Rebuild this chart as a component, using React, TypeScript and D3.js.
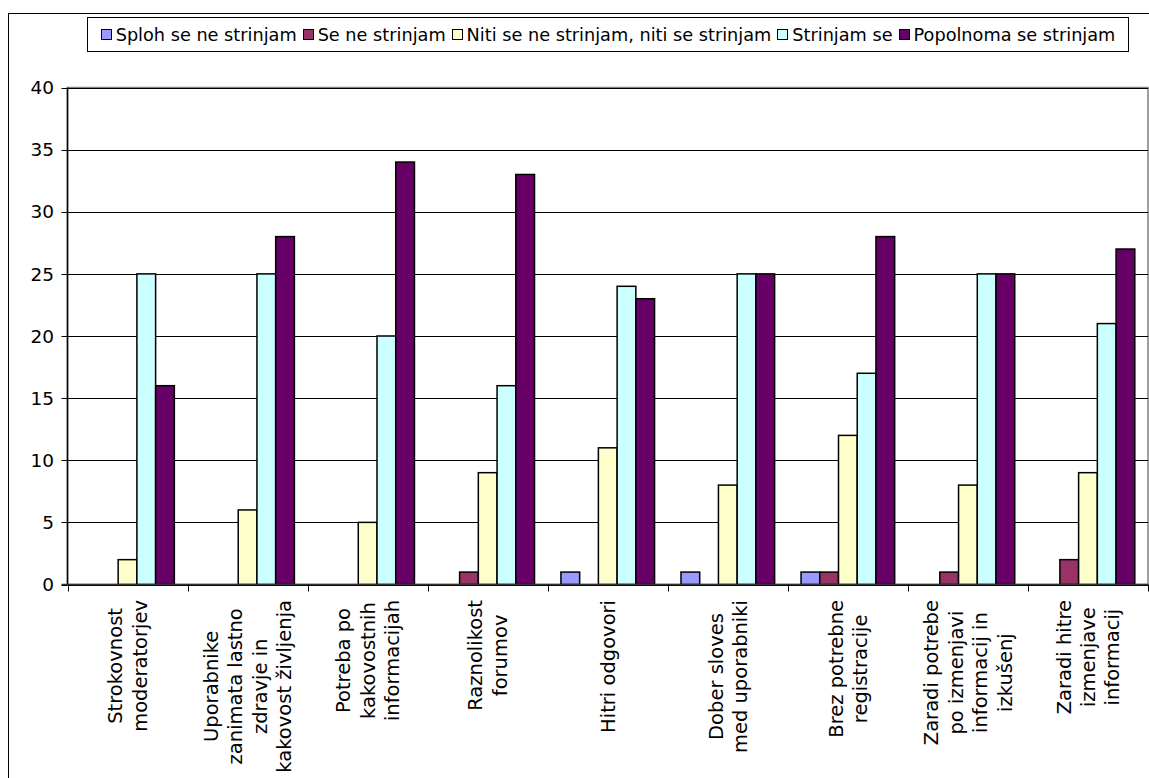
import React, { useMemo } from "react";
import * as d3 from "d3";

const categoryLines: string[][] = [
  ["Strokovnost", "moderatorjev"],
  ["Uporabnike", "zanimata lastno", "zdravje in", "kakovost življenja"],
  ["Potreba po", "kakovostnih", "informacijah"],
  ["Raznolikost", "forumov"],
  ["Hitri odgovori"],
  ["Dober sloves", "med uporabniki"],
  ["Brez potrebne", "registracije"],
  ["Zaradi potrebe", "po izmenjavi", "informacij in", "izkušenj"],
  ["Zaradi hitre", "izmenjave", "informacij"],
];
const categories = categoryLines.map((l) => l.join(" "));

const seriesNames = [
  "Sploh se ne strinjam",
  "Se ne strinjam",
  "Niti se ne strinjam, niti se strinjam",
  "Strinjam se",
  "Popolnoma se strinjam",
];
const seriesColors = ["#9999FF", "#993366", "#FFFFCC", "#CCFFFF", "#660066"];

const splohSeNe = [0, 0, 0, 0, 1, 1, 1, 0, 0];
const seNe = [0, 0, 0, 1, 0, 0, 1, 1, 2];
const niti = [2, 6, 5, 9, 11, 8, 12, 8, 9];
const strinjamSe = [25, 25, 20, 16, 24, 25, 17, 25, 21];
const popolnoma = [16, 28, 34, 33, 23, 25, 28, 25, 27];
const seriesValues = [splohSeNe, seNe, niti, strinjamSe, popolnoma];

const yTicks = [0, 5, 10, 15, 20, 25, 30, 35, 40];

const FONT = '"DejaVu Sans", Verdana, sans-serif';
const FS_LEG = 17.7;
const FS_TICK = 18.5;
const FS_CAT = 19.5;

function useMeasure(fs: number) {
  return useMemo(() => {
    const c = document.createElement("canvas").getContext("2d")!;
    c.font = `${fs}px "DejaVu Sans"`;
    return (s: string) => c.measureText(s).width;
  }, [fs]);
}

export default function App() {
  const W = 1149;
  const H = 778;
  const plot = { left: 67.5, right: 1148, top: 87.5, bottom: 584.5 };
  const measureLeg = useMeasure(FS_LEG);
  const measureCat = useMeasure(FS_CAT);

  const x0 = d3.scaleBand<string>().domain(categories).range([plot.left, plot.right]).padding(0);
  const bw = x0.bandwidth();
  const gap = bw * 0.22;
  const x1 = d3
    .scaleBand<string>()
    .domain(seriesNames)
    .range([gap / 2, bw - gap / 2])
    .padding(0);
  const y = d3.scaleLinear().domain([0, 40]).range([plot.bottom, plot.top]);

  // legend layout
  const sw = 10;
  const items = seriesNames.map((n) => ({ n, w: measureLeg(n) }));
  const itemWidths = items.map((it) => sw + 5 + it.w);
  const spacing = 6;
  const totalW = d3.sum(itemWidths) + spacing * (items.length - 1);
  const legendBox = { x: 87.5, y: 17.5, w: 1041, h: 34 };
  let cx = legendBox.x + (legendBox.w - totalW) / 2;
  const legendPos = items.map((it, i) => {
    const p = cx;
    cx += itemWidths[i] + spacing;
    return p;
  });

  const lineH = 24.5;
  const labelTop = 600;

  return (
    <svg
      width={W}
      height={H}
      style={{ position: "absolute", left: 0, top: 0, background: "#fff" }}
      fontFamily={FONT}
    >
      <rect x={0} y={0} width={W} height={H} fill="#fff" />
      <rect x={8.5} y={13.5} width={1170} height={800} fill="none" stroke="#000" strokeWidth={1} />

      {/* legend */}
      <rect
        x={legendBox.x}
        y={legendBox.y}
        width={legendBox.w}
        height={legendBox.h}
        fill="#fff"
        stroke="#000"
        strokeWidth={1}
      />
      {items.map((it, i) => (
        <g key={it.n}>
          <rect
            x={Math.round(legendPos[i]) + 0.5}
            y={29.5}
            width={sw}
            height={sw}
            fill={seriesColors[i]}
            stroke="#000"
            strokeWidth={1}
          />
          <text x={legendPos[i] + sw + 5} y={41} fontSize={FS_LEG} fill="#000">
            {it.n}
          </text>
        </g>
      ))}

      {/* plot border */}
      <rect
        x={plot.left}
        y={plot.top}
        width={plot.right - plot.left}
        height={plot.bottom - plot.top}
        fill="#fff"
        stroke="#808080"
        strokeWidth={1.5}
      />

      {/* gridlines */}
      {yTicks.map((t) => (
        <line
          key={"g" + t}
          x1={plot.left}
          x2={plot.right}
          y1={Math.round(y(t)) + 0.5}
          y2={Math.round(y(t)) + 0.5}
          stroke="#000"
          strokeWidth={1}
        />
      ))}

      {/* bars */}
      {categories.map((c, ci) => (
        <g key={c} transform={`translate(${x0(c)},0)`}>
          {seriesNames.map((s, si) => {
            const v = seriesValues[si][ci];
            if (!v) return null;
            return (
              <rect
                key={s}
                x={x1(s)}
                y={y(v)}
                width={x1.bandwidth()}
                height={y(0) - y(v)}
                fill={seriesColors[si]}
                stroke="#000"
                strokeWidth={1.5}
              />
            );
          })}
        </g>
      ))}

      {/* axes */}
      <line x1={plot.left} x2={plot.left} y1={plot.top} y2={plot.bottom} stroke="#000" strokeWidth={1.5} />
      <line x1={plot.left - 6} x2={plot.right} y1={plot.bottom} y2={plot.bottom} stroke="#333" strokeWidth={1.5} />
      {yTicks.map((t) => (
        <g key={"yt" + t}>
          <line
            x1={plot.left - 6}
            x2={plot.left}
            y1={Math.round(y(t)) + 0.5}
            y2={Math.round(y(t)) + 0.5}
            stroke="#000"
          />
          <text x={54} y={y(t)} dy="0.36em" textAnchor="end" fontSize={FS_TICK} fill="#000">
            {t}
          </text>
        </g>
      ))}
      {[...categories.map((c) => x0(c)!), plot.right].map((xv, i) => (
        <line
          key={"xt" + i}
          x1={Math.round(xv) + 0.5}
          x2={Math.round(xv) + 0.5}
          y1={plot.bottom}
          y2={plot.bottom + 7}
          stroke="#000"
        />
      ))}

      {/* category labels */}
      {categoryLines.map((lines, ci) => {
        const cxm = x0(categories[ci])! + bw / 2;
        const maxLen = d3.max(lines, (l) => measureCat(l))!;
        const cy = labelTop + maxLen / 2;
        const n = lines.length;
        return (
          <g key={"cl" + ci} transform={`translate(${cxm},${cy}) rotate(-90)`}>
            {lines.map((l, li) => (
              <text
                key={li}
                x={0}
                y={(li - (n - 1) / 2) * lineH}
                dy="0.36em"
                textAnchor="middle"
                fontSize={FS_CAT}
                fill="#000"
              >
                {l}
              </text>
            ))}
          </g>
        );
      })}
    </svg>
  );
}
